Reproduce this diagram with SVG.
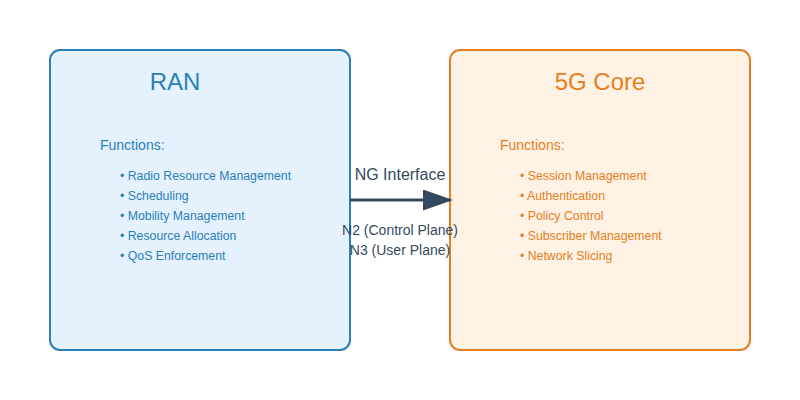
<svg xmlns="http://www.w3.org/2000/svg" width="800" height="400" viewBox="0 0 800 400">
<style>
text{font-family:"Liberation Sans",Arial,Helvetica,sans-serif}
.ran{fill:#2980b9}
.core{fill:#e67e22}
.title{font-size:24px;text-anchor:middle}
.head{font-size:14px}
.item{font-size:12.3px}
.lbl{fill:#34495e;text-anchor:middle}
</style>
<defs>
<marker id="arrow" markerWidth="10" markerHeight="7" refX="9" refY="3.5" orient="auto">
<polygon points="0 0, 10 3.5, 0 7" fill="#34495e"/>
</marker>
</defs>
<rect width="800" height="400" fill="#ffffff"/>
<g id="ran">
<rect x="50" y="50" width="300" height="300" rx="10" ry="10" fill="#e5f1fc" stroke="#2980b9" stroke-width="2"/>
<text class="ran title" x="175" y="90">RAN</text>
<text class="ran head" x="100" y="150">Functions:</text>
<text class="ran item" x="120" y="180">• Radio Resource Management</text>
<text class="ran item" x="120" y="200">• Scheduling</text>
<text class="ran item" x="120" y="220">• Mobility Management</text>
<text class="ran item" x="120" y="240">• Resource Allocation</text>
<text class="ran item" x="120" y="260">• QoS Enforcement</text>
</g>
<g id="core">
<rect x="450" y="50" width="300" height="300" rx="10" ry="10" fill="#fdf2e4" stroke="#e67e22" stroke-width="2"/>
<text class="core title" x="600" y="90">5G Core</text>
<text class="core head" x="500" y="150">Functions:</text>
<text class="core item" x="520" y="180">• Session Management</text>
<text class="core item" x="520" y="200">• Authentication</text>
<text class="core item" x="520" y="220">• Policy Control</text>
<text class="core item" x="520" y="240">• Subscriber Management</text>
<text class="core item" x="520" y="260">• Network Slicing</text>
</g>
<g id="connectors">
<line x1="350" y1="200" x2="450" y2="200" stroke="#34495e" stroke-width="3" marker-end="url(#arrow)"/>
<text class="lbl" x="400" y="180" font-size="16">NG Interface</text>
<text class="lbl" x="400" y="235" font-size="14">N2 (Control Plane)</text>
<text class="lbl" x="400" y="255" font-size="14">N3 (User Plane)</text>
</g>
</svg>
